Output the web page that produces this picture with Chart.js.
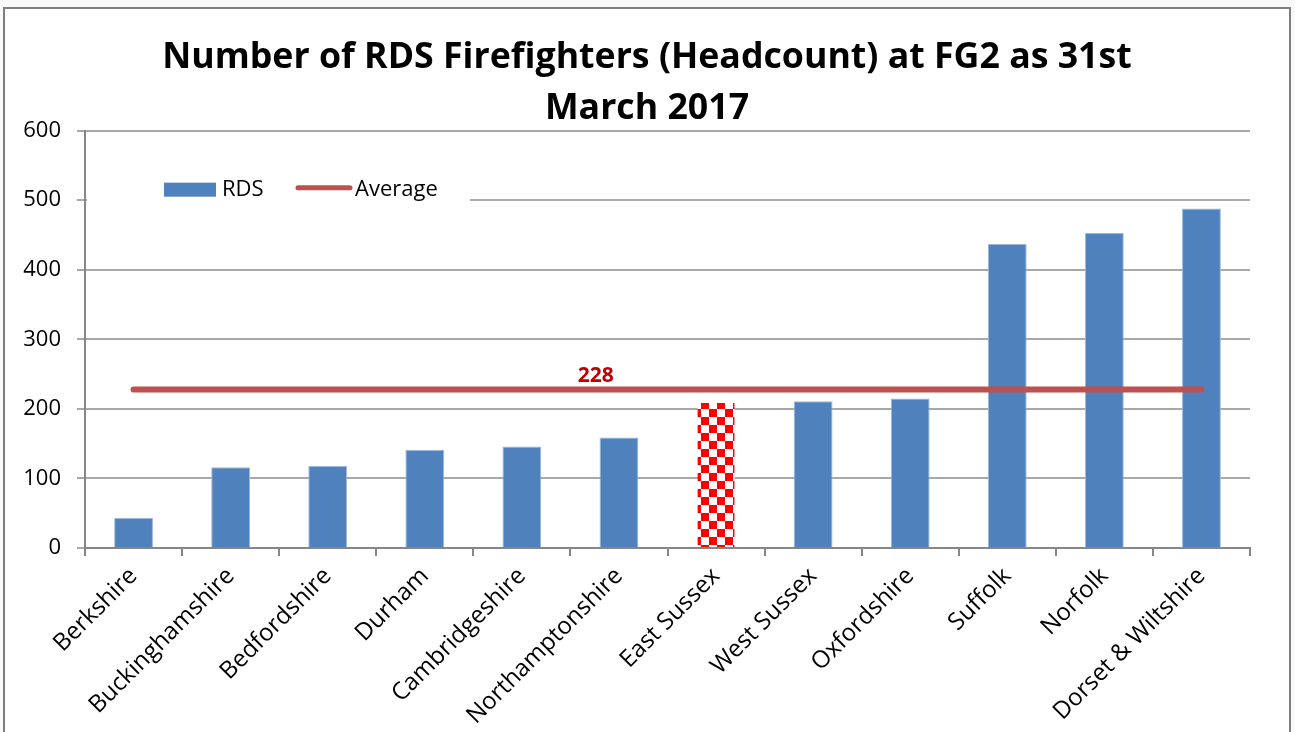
<!DOCTYPE html>
<html>
<head>
<meta charset="utf-8">
<script src="https://cdn.jsdelivr.net/npm/chart.js@4/dist/chart.umd.min.js"></script>
<style>
  html, body { margin: 0; padding: 0; background: #f9f9f9; }
  #frame {
    position: absolute; left: 3px; top: 7px;
    width: 1284px; height: 730px;
    border: 2px solid #7f7f7f; border-bottom: none;
    background: #fff;
  }
  #chart { display: block; }
</style>
</head>
<body>
<div id="frame"><canvas id="chart" width="1284" height="723"></canvas></div>
<script>
// data
const categories = ['Berkshire', 'Buckinghamshire', 'Bedfordshire', 'Durham', 'Cambridgeshire',
  'Northamptonshire', 'East Sussex', 'West Sussex', 'Oxfordshire', 'Suffolk', 'Norfolk',
  'Dorset & Wiltshire'];
const rdsValues = [43, 116, 118, 141, 146, 159, 210, 211, 215, 437, 453, 488];
const averageValues = [228, 228, 228, 228, 228, 228, 228, 228, 228, 228, 228, 228];
const averageLabel = '228';
const highlightIndex = 6; // East Sussex is drawn checkered
const yMin = 0, yMax = 600, yStep = 100;

const FONT = "'Open Sans', 'Liberation Sans', sans-serif";
const BLUE = '#4F81BD';
const RED_LINE = '#C0504D';

const canvas = document.getElementById('chart');
const ctx = canvas.getContext('2d');

function checkerPattern() {
  const c = document.createElement('canvas');
  c.width = 16; c.height = 16;
  const g = c.getContext('2d');
  g.fillStyle = '#fff';
  g.fillRect(0, 0, 16, 16);
  g.fillStyle = '#FF0000';
  g.fillRect(0, 0, 8, 8);
  g.fillRect(8, 8, 8, 8);
  return ctx.createPattern(c, 'repeat');
}
const checker = checkerPattern();

const barColors = rdsValues.map((v, i) => i === highlightIndex ? checker : BLUE);
const barBorders = rdsValues.map((v, i) => i === highlightIndex ? 'rgba(0,0,0,0)' : '#9db8da');

// legend sits inside the plot, on a white box
const insideLegend = {
  id: 'insideLegend',
  afterDatasetsDraw(chart) {
    const a = chart.chartArea;
    const c = chart.ctx;
    c.save();
    c.fillStyle = '#fff';
    c.fillRect(a.left + 2, a.top + 38, 383, 48);
    c.fillStyle = BLUE;
    c.fillRect(a.left + 79, a.top + 52, 52, 14);
    c.strokeStyle = RED_LINE;
    c.lineWidth = 5;
    c.lineCap = 'round';
    c.beginPath();
    c.moveTo(a.left + 213, a.top + 57);
    c.lineTo(a.left + 265, a.top + 57);
    c.stroke();
    c.fillStyle = '#000';
    c.font = '22px ' + FONT;
    c.textBaseline = 'middle';
    c.fillText('RDS', a.left + 137, a.top + 59);
    c.fillText('Average', a.left + 270, a.top + 59);
    c.restore();
  }
};

const averageText = {
  id: 'averageText',
  afterDatasetsDraw(chart) {
    const x = chart.scales.x.getPixelForValue(4.76);
    const y = chart.scales.y.getPixelForValue(averageValues[0]) - 13;
    const c = chart.ctx;
    c.save();
    c.fillStyle = '#C00000';
    c.font = 'bold 21px ' + FONT;
    c.textAlign = 'center';
    c.textBaseline = 'middle';
    c.fillText(averageLabel, x, y);
    c.restore();
  }
};

new Chart(ctx, {
  data: {
    labels: categories,
    datasets: [
      {
        type: 'line',
        label: 'Average',
        data: averageValues,
        borderColor: RED_LINE,
        borderWidth: 6,
        borderCapStyle: 'round',
        pointRadius: 0,
        order: 0,
      },
      {
        type: 'bar',
        label: 'RDS',
        data: rdsValues,
        backgroundColor: barColors,
        borderColor: barBorders,
        borderWidth: 1,
        barPercentage: 0.4,
        categoryPercentage: 1,
        order: 1,
      },
    ],
  },
  options: {
    responsive: false,
    animation: false,
    layout: { padding: 0 },
    plugins: {
      legend: { display: false },
      tooltip: { enabled: false },
      title: {
        display: true,
        text: ['Number of RDS Firefighters (Headcount) at FG2 as 31st', 'March 2017'],
        color: '#000',
        font: { family: FONT, size: 35.7, weight: 'bold', lineHeight: 1.41 },
        padding: { top: 24, bottom: -3 },
      },
    },
    scales: {
      x: {
        afterFit(scale) { scale.height = 184; },
        grid: { display: true, drawOnChartArea: false, offset: true, tickLength: 8, color: '#868686', lineWidth: 2 },
        border: { color: '#868686', width: 2 },
        ticks: {
          color: '#000', font: { family: FONT, size: 24 },
          maxRotation: 45, minRotation: 45, padding: 6, autoSkip: false,
        },
      },
      y: {
        min: yMin, max: yMax,
        afterFit(scale) { scale.width = 80; },
        grid: { color: '#a8a8a8', lineWidth: 2, tickLength: 8 },
        border: { color: '#868686', width: 2 },
        ticks: { stepSize: yStep, color: '#000', font: { family: FONT, size: 22 }, padding: 16 },
      },
      // empty right-hand axis, only to keep space on the right so the title stays centred on the canvas
      yRight: {
        position: 'right',
        min: yMin, max: yMax,
        afterFit(scale) { scale.width = 39; },
        grid: { display: false },
        border: { display: false },
        ticks: { display: false },
      },
    },
  },
  plugins: [insideLegend, averageText],
});
</script>
</body>
</html>
